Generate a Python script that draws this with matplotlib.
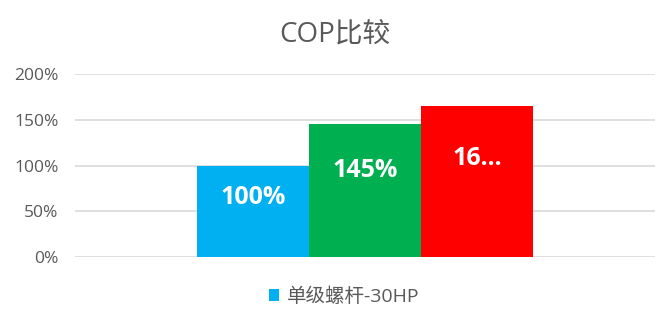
import matplotlib
matplotlib.use('Agg')
import matplotlib.pyplot as plt
from matplotlib.patches import Patch

plt.rcParams['font.family'] = ['Open Sans', 'Noto Sans CJK SC', 'DejaVu Sans']

# data
values = [100, 145, 165]
bar_labels = ['100%', '145%', '16...']
colors = ['#00B0F0', '#00B050', '#FF0000']
series_name = '单级螺杆-30HP'
title = 'COP比较'
yticks = [0, 50, 100, 150, 200]

fig = plt.figure(figsize=(6.72, 3.15), dpi=100)
ax = fig.add_axes([0.1116, 0.184, 0.8631, 0.581])

xs = [-1, 0, 1]
ax.bar(xs, values, width=1.0, color=colors, zorder=3)

for x, v, lab in zip(xs, values, bar_labels):
    ax.text(x, v * 0.65, lab, ha='center', va='center', color='white',
            fontsize=18, fontweight='bold', zorder=4)

ax.set_xlim(-2.59, 2.59)
ax.set_ylim(0, 200)
ax.set_yticks(yticks)
ax.set_yticklabels([f'{t}%' for t in yticks])
ax.set_xticks([])
ax.grid(axis='y', color='#d9d9d9', linewidth=1.2, zorder=0)
for s in ax.spines.values():
    s.set_visible(False)
ax.tick_params(axis='y', length=0, labelsize=12.5, labelcolor='#595959', pad=12)

fig.text(0.498, 0.89, title, ha='center', va='center', fontsize=20, color='#595959')

handle = Patch(facecolor=colors[0], edgecolor='none')
fig.legend([handle], [series_name], loc='center', bbox_to_anchor=(0.512, 0.058),
           frameon=False, fontsize=14, handlelength=0.55, handleheight=0.55,
           handletextpad=0.4, labelcolor='#595959')

fig.savefig('out.png', dpi=100)
